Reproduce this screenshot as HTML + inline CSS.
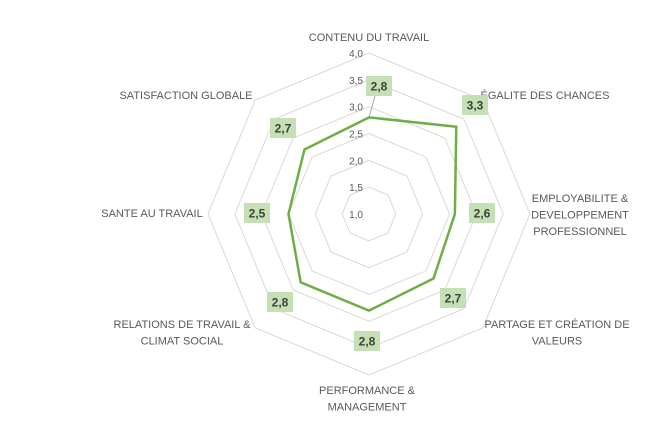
<!DOCTYPE html>
<html><head><meta charset="utf-8"><style>
body{margin:0;background:#fff}
svg{display:block;font-family:"Liberation Sans",sans-serif}
</style></head><body>
<svg id="chart" width="671" height="440"></svg>
<script>
const categories=["CONTENU DU TRAVAIL","ÉGALITE DES CHANCES","EMPLOYABILITE &|DEVELOPPEMENT|PROFESSIONNEL","PARTAGE ET CRÉATION DE|VALEURS","PERFORMANCE &|MANAGEMENT","RELATIONS DE TRAVAIL &|CLIMAT SOCIAL","SANTE AU TRAVAIL","SATISFACTION GLOBALE"];
const values=[2.8,3.3,2.6,2.7,2.8,2.8,2.5,2.7];
const ticks=[1.0,1.5,2.0,2.5,3.0,3.5,4.0];
const catPos=[[369,37],[545,95],[580,198],[557,324],[367,390],[182,324],[152,213],[186,95]];
const lblPos=[[379,86],[475,105],[482,213],[453,298],[367,341],[280,302],[257,213],[283,128]];
const svg=document.getElementById('chart');
const NS='http://www.w3.org/2000/svg';
const cx=369,cy=214,R=161,vmin=1,vmax=4;
function r(v){return (v-vmin)/(vmax-vmin)*R;}
function pt(i,v){const a=-Math.PI/2+i*2*Math.PI/categories.length;return [cx+r(v)*Math.cos(a),cy+r(v)*Math.sin(a)];}
function mk(t,attrs){const e=document.createElementNS(NS,t);for(const k in attrs)e.setAttribute(k,attrs[k]);svg.appendChild(e);return e;}
ticks.forEach(t=>{
 if(t>vmin){
  const p=mk('polygon',{points:categories.map((c,i)=>pt(i,t).join(',')).join(' '),fill:'none',stroke:'#d9d9d9','stroke-width':1});
  
  
 }
 const tx=mk('text',{x:cx-6,y:cy-r(t)+4,'text-anchor':'end','font-size':10,fill:'#595959'});
 tx.textContent=t.toFixed(1).replace('.',',');
 
 
});
categories.forEach((c,i)=>{
 const lines=c.split('|');
 lines.forEach((l,j)=>{
  const tx=mk('text',{x:catPos[i][0],y:catPos[i][1]+4+j*16.5,'text-anchor':'middle','font-size':11,fill:'#595959'});
  tx.textContent=l;
  
  
 });
});
const poly=mk('polygon',{points:values.map((v,i)=>pt(i,v).join(',')).join(' '),fill:'none',stroke:'#70ad47','stroke-width':2.5,'stroke-linejoin':'miter'});


values.forEach((v,i)=>{
 const [lx,ly]=lblPos[i];
 if(i===0){const p=pt(i,v);const ln=mk('line',{x1:p[0],y1:p[1],x2:lx-4,y2:ly+10,stroke:'#a6a6a6','stroke-width':1});
  
  }
 const b=mk('rect',{x:lx-13,y:ly-10,width:26,height:20,fill:'#c5e0b4'});
 
 
 const tx=mk('text',{x:lx,y:ly+4.5,'text-anchor':'middle','font-size':12,'font-weight':'bold',fill:'#404040'});
 tx.textContent=v.toFixed(1).replace('.',',');
 
 
});
</script>
</body></html>
